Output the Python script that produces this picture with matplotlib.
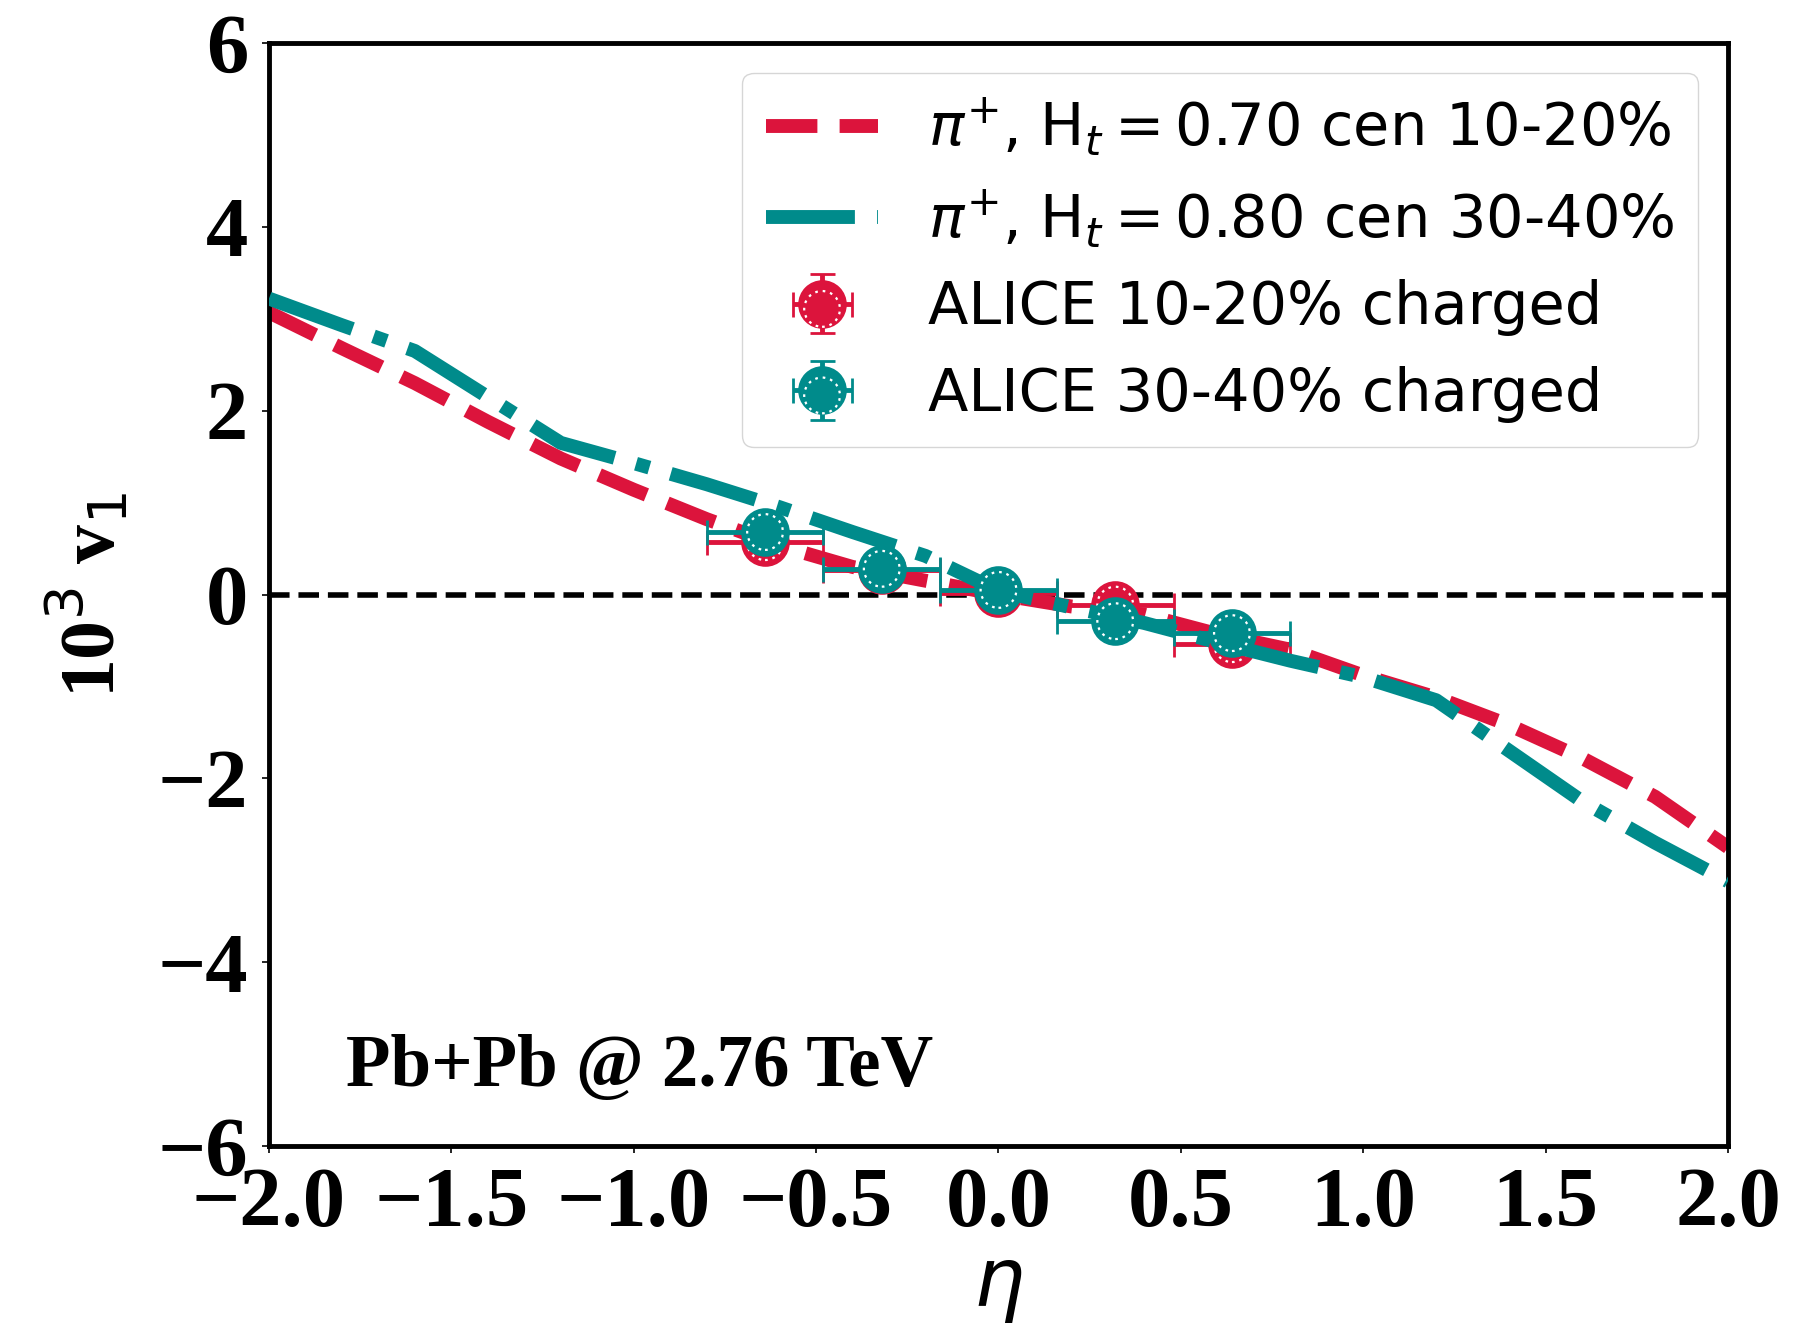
import matplotlib
matplotlib.use("Agg")
import matplotlib.pyplot as plt
from matplotlib.ticker import FixedLocator

# Model curves: pi+ directed flow vs pseudorapidity
eta_model = [-2.0, -1.8, -1.6, -1.4, -1.2, -1.0, -0.8, -0.6, -0.4, -0.2,
             0.0, 0.2, 0.4, 0.6, 0.8, 1.0, 1.2, 1.4, 1.6, 1.8, 2.0]
v1_pi_cen1020 = [3.07, 2.68, 2.30, 1.88, 1.48, 1.14, 0.82, 0.53, 0.30, 0.15,
                 0.00, -0.13, -0.22, -0.43, -0.60, -0.88, -1.12, -1.42, -1.78, -2.20, -2.75]
v1_pi_cen3040 = [3.22, 2.93, 2.65, 2.15, 1.65, 1.43, 1.20, 0.95, 0.68, 0.42,
                 0.04, -0.14, -0.31, -0.52, -0.72, -0.90, -1.15, -1.70, -2.25, -2.70, -3.12]

# ALICE charged-hadron measurements
eta_alice = [-0.64, -0.32, 0.0, 0.32, 0.64]
eta_halfwidth = [0.16, 0.16, 0.16, 0.16, 0.16]
v1_alice_cen1020 = [0.57, 0.27, 0.02, -0.11, -0.54]
v1_alice_cen3040 = [0.68, 0.28, 0.05, -0.29, -0.42]
v1_err_cen1020 = [0.12, 0.10, 0.10, 0.10, 0.12]
v1_err_cen3040 = [0.12, 0.10, 0.10, 0.10, 0.12]

labels = [r"$\pi^{+}$, H$_t = 0.70$ cen 10-20%",
          r"$\pi^{+}$, H$_t = 0.80$ cen 30-40%",
          "ALICE 10-20% charged",
          "ALICE 30-40% charged"]
x_ticks = [-2.0, -1.5, -1.0, -0.5, 0.0, 0.5, 1.0, 1.5, 2.0]
y_ticks = [-6, -4, -2, 0, 2, 4, 6]

RED = "#DC143C"
TEAL = "#008B8B"
SERIF = "Liberation Serif"

fig = plt.figure(figsize=(18.1, 13.29), dpi=100)
ax = fig.add_axes([0.1486, 0.1377, 0.8061, 0.8299])

ax.axhline(0, color="black", ls="--", lw=4, zorder=1)

ms = 33
ring_s = (ms * 0.78) ** 2


def alice_points(v1, err, color, z):
    eb = ax.errorbar(eta_alice, v1, xerr=eta_halfwidth, yerr=err, fmt="o",
                     color=color, ms=ms, mfc=color, mec=color, mew=2,
                     elinewidth=3.5, capsize=9, capthick=3.5, zorder=z)
    ring = ax.scatter(eta_alice, v1, s=ring_s, facecolors="none",
                      edgecolors="white", linewidths=1.6,
                      linestyles=(0, (1.2, 2.2)), zorder=z + 0.1)
    return eb, ring


l1, = ax.plot(eta_model, v1_pi_cen1020, color=RED, ls="--", lw=10, zorder=2)
eb1, ring1 = alice_points(v1_alice_cen1020, v1_err_cen1020, RED, 3)
l2, = ax.plot(eta_model, v1_pi_cen3040, color=TEAL, ls="-.", lw=10, zorder=4)
eb2, ring2 = alice_points(v1_alice_cen3040, v1_err_cen3040, TEAL, 5)

ax.set_xlim(-2.0, 2.0)
ax.set_ylim(-6, 6)
ax.xaxis.set_major_locator(FixedLocator(x_ticks))
ax.yaxis.set_major_locator(FixedLocator(y_ticks))
ax.set_xticklabels([f"{t:.1f}".replace("-", "\u2212") for t in x_ticks])
ax.set_yticklabels([f"{t:d}".replace("-", "\u2212") for t in y_ticks])
for lab in ax.get_xticklabels() + ax.get_yticklabels():
    lab.set_family(SERIF)
    lab.set_fontweight("bold")
    lab.set_fontsize(61)
ax.tick_params(length=5, width=1.2, pad=10, direction="out")
for sp in ax.spines.values():
    sp.set_linewidth(3.5)

ax.set_xlabel(r"$\eta$", fontsize=58, labelpad=2)
ax.set_ylabel("10$^3$ v$_1$", family=SERIF, fontweight="bold", fontsize=56,
              labelpad=18)

ax.text(0.053, 0.071, "Pb+Pb @ 2.76 TeV", transform=ax.transAxes,
        family=SERIF, fontweight="bold", fontsize=52.5, ha="left", va="center")

ax.legend([l1, l2, (eb1, ring1), (eb2, ring2)], labels, loc="upper right",
          prop={"family": "DejaVu Sans", "size": 42.5}, handlelength=1.9,
          handletextpad=0.85)

fig.savefig("out.png", dpi=100)
